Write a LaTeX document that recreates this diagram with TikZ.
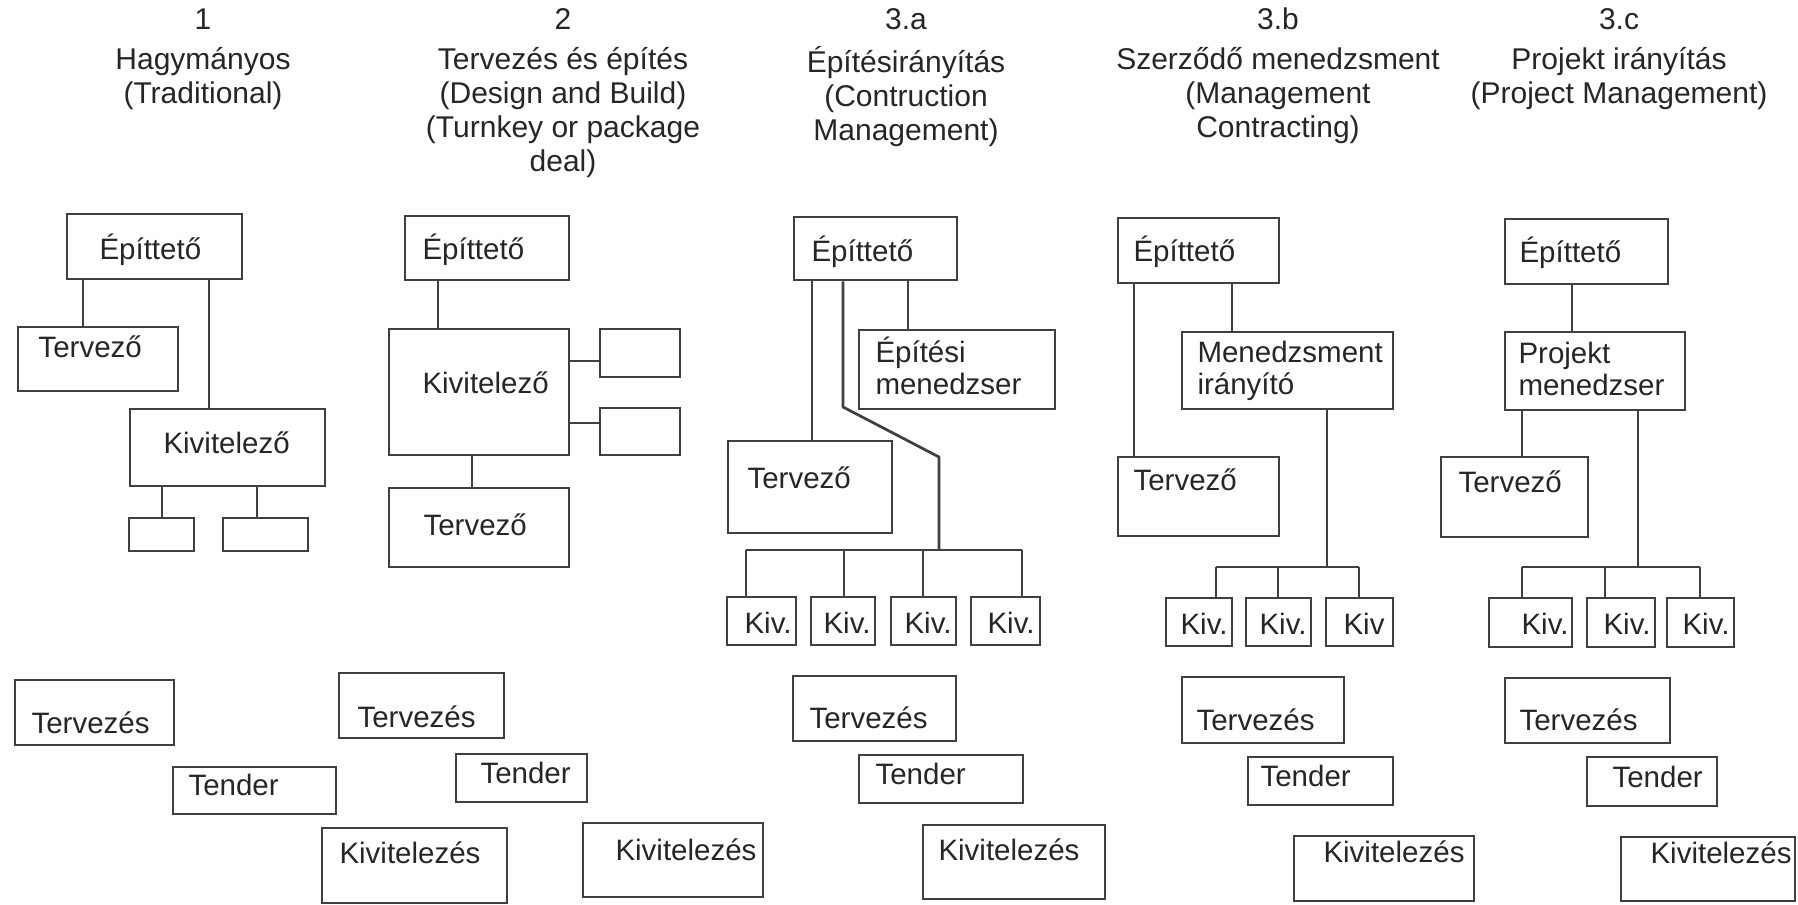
\documentclass[tikz,border=0pt]{standalone}
\usepackage{fontspec}
\setmainfont{Liberation Sans}
\usetikzlibrary{fit}
\tikzset{
  bxs/.style={draw=black!75, line width=1.1pt, inner sep=0pt},
  lbl/.style={inner sep=0pt, text=black!85, font=\fontsize{11.8pt}{12.8pt}\selectfont},
  ttl/.style={inner sep=0pt, text=black!85, font=\fontsize{12pt}{13.6pt}\selectfont},
  conn/.style={draw=black!75, line width=1.1pt}
}
\newcommand\mybox[5]{%
  \coordinate (#1-nw) at (#2,#3);
  \coordinate (#1-se) at (#4,#5);
  \node[bxs, fit=(#1-nw)(#1-se)] (#1) {};}
\newcommand\mylbl[4]{\node[lbl, anchor=base west] (#1) at (#2,#3) {#4};}
\newcommand\mykiv[4]{\node[lbl, anchor=base east] (#1) at (#2,#3) {#4};}
\newcommand\twoline[2]{\begin{tabular}[t]{@{}l@{}}#1\\#2\end{tabular}}
\begin{document}
\begin{tikzpicture}[x=0.4pt, y=-0.4pt]
\fill[white] (0,0) rectangle (1798,905);
\useasboundingbox (0,0) rectangle (1798,905);

% ---------- titles ----------
\node[ttl, anchor=base] (t1) at (203,30) {\begin{tabular}[t]{@{}c@{}}1\\[2.4pt]Hagymányos\\(Traditional)\end{tabular}};
\node[ttl, anchor=base] (t2) at (563,30) {\begin{tabular}[t]{@{}c@{}}2\\[2.4pt]Tervezés és építés\\(Design and Build)\\(Turnkey or package\\deal)\end{tabular}};
\node[ttl, anchor=base] (t3a) at (906,30) {\begin{tabular}[t]{@{}c@{}}3.a\\[2.4pt]Építésirányítás\\(Contruction\\Management)\end{tabular}};
\node[ttl, anchor=base] (t3b) at (1278,30) {\begin{tabular}[t]{@{}c@{}}3.b\\[2.4pt]Szerződő menedzsment\\(Management\\Contracting)\end{tabular}};
\node[ttl, anchor=base] (t3c) at (1619,30) {\begin{tabular}[t]{@{}c@{}}3.c\\[2.4pt]Projekt irányítás\\(Project Management)\end{tabular}};

% ---------- column 1 ----------
\mybox{ep1}{67}{214}{242}{279}
\mybox{tv1}{18}{327}{178}{391}
\mybox{kv1}{130}{409}{325}{486}
\mybox{s1a}{129}{518}{194}{551}
\mybox{s1b}{223}{518}{308}{551}
\mylbl{ep1t}{99}{260}{Építtető}
\mylbl{tv1t}{38}{357}{Tervező}
\mylbl{kv1t}{163}{453}{Kivitelező}
\coordinate (x83) at (83,0);
\coordinate (x209) at (209,0);
\coordinate (x162) at (162,0);
\coordinate (x257) at (257,0);
\draw[conn] (ep1.south -| x83) -- (tv1.north -| x83);
\draw[conn] (ep1.south -| x209) -- (kv1.north -| x209);
\draw[conn] (kv1.south -| x162) -- (s1a.north -| x162);
\draw[conn] (kv1.south -| x257) -- (s1b.north -| x257);

% ---------- column 2 ----------
\mybox{ep2}{405}{216}{569}{280}
\mybox{kv2}{389}{329}{569}{455}
\mybox{r2a}{600}{329}{680}{377}
\mybox{r2b}{600}{408}{680}{455}
\mybox{tv2}{389}{488}{569}{567}
\mylbl{ep2t}{422}{260}{Építtető}
\mylbl{kv2t}{422}{393}{Kivitelező}
\mylbl{tv2t}{423}{535}{Tervező}
\coordinate (x438) at (438,0);
\coordinate (x472) at (472,0);
\coordinate (y361) at (0,361);
\coordinate (y423) at (0,423);
\draw[conn] (ep2.south -| x438) -- (kv2.north -| x438);
\draw[conn] (kv2.east |- y361) -- (r2a.west |- y361);
\draw[conn] (kv2.east |- y423) -- (r2b.west |- y423);
\draw[conn] (kv2.south -| x472) -- (tv2.north -| x472);

% ---------- column 3.a ----------
\mybox{ep3a}{794}{217}{957}{280}
\mybox{em3a}{859}{330}{1055}{409}
\mybox{tv3a}{728}{441}{892}{533}
\mybox{ka1}{727}{597}{796}{645}
\mybox{ka2}{811}{597}{875}{645}
\mybox{ka3}{891}{597}{956}{645}
\mybox{ka4}{971}{597}{1040}{645}
\mylbl{ep3at}{811}{262}{Építtető}
\mylbl{em3at}{875}{362}{\twoline{Építési}{menedzser}}
\mylbl{tv3at}{747}{488}{Tervező}
\mykiv{ka1t}{792}{633}{Kiv.}
\mykiv{ka2t}{871}{633}{Kiv.}
\mykiv{ka3t}{952}{633}{Kiv.}
\mykiv{ka4t}{1035}{633}{Kiv.}
\coordinate (x812) at (812,0);
\coordinate (x908) at (908,0);
\coordinate (x843) at (843,0);
\coordinate (k3a1) at (843,407);
\coordinate (k3a2) at (939,457);
\coordinate (j3a) at (939,550);
\coordinate (b3a1) at (746,550);
\coordinate (b3a2) at (844,550);
\coordinate (b3a3) at (923,550);
\coordinate (b3a4) at (1022,550);
\draw[conn] (ep3a.south -| x812) -- (tv3a.north -| x812);
\draw[conn] (ep3a.south -| x908) -- (em3a.north -| x908);
\draw[conn, line join=round] (ep3a.south -| x843) -- (k3a1) -- (k3a2) -- (j3a);
\draw[conn] (b3a1) -- (b3a4);
\draw[conn] (b3a1) -- (ka1.north -| b3a1);
\draw[conn] (b3a2) -- (ka2.north -| b3a2);
\draw[conn] (b3a3) -- (ka3.north -| b3a3);
\draw[conn] (b3a4) -- (ka4.north -| b3a4);

% ---------- column 3.b ----------
\mybox{ep3b}{1118}{218}{1279}{283}
\mybox{mi3b}{1182}{332}{1393}{409}
\mybox{tv3b}{1118}{457}{1279}{536}
\mybox{kb1}{1166}{598}{1232}{646}
\mybox{kb2}{1246}{598}{1311}{646}
\mybox{kb3}{1326}{598}{1393}{646}
\mylbl{ep3bt}{1133}{262}{Építtető}
\mylbl{mi3bt}{1197}{362}{\twoline{Menedzsment}{irányító}}
\mylbl{tv3bt}{1133}{490}{Tervező}
\mykiv{kb1t}{1228}{634}{Kiv.}
\mykiv{kb2t}{1307}{634}{Kiv.}
\mykiv{kb3t}{1385}{634}{Kiv}
\coordinate (x1134) at (1134,0);
\coordinate (x1232) at (1232,0);
\coordinate (x1327) at (1327,0);
\coordinate (j3b) at (1327,567);
\coordinate (b3b1) at (1216,567);
\coordinate (b3b2) at (1278,567);
\coordinate (b3b3) at (1359,567);
\draw[conn] (ep3b.south -| x1134) -- (tv3b.north -| x1134);
\draw[conn] (ep3b.south -| x1232) -- (mi3b.north -| x1232);
\draw[conn] (mi3b.south -| x1327) -- (j3b);
\draw[conn] (b3b1) -- (b3b3);
\draw[conn] (b3b1) -- (kb1.north -| b3b1);
\draw[conn] (b3b2) -- (kb2.north -| b3b2);
\draw[conn] (b3b3) -- (kb3.north -| b3b3);

% ---------- column 3.c ----------
\mybox{ep3c}{1505}{219}{1668}{284}
\mybox{pm3c}{1505}{332}{1685}{410}
\mybox{tv3c}{1441}{457}{1588}{537}
\mybox{kc1}{1489}{598}{1572}{647}
\mybox{kc2}{1587}{598}{1655}{647}
\mybox{kc3}{1667}{598}{1734}{647}
\mylbl{ep3ct}{1519}{263}{Építtető}
\mylbl{pm3ct}{1518}{363}{\twoline{Projekt}{menedzser}}
\mylbl{tv3ct}{1458}{492}{Tervező}
\mykiv{kc1t}{1569}{634}{Kiv.}
\mykiv{kc2t}{1651}{634}{Kiv.}
\mykiv{kc3t}{1730}{634}{Kiv.}
\coordinate (x1572) at (1572,0);
\coordinate (x1522) at (1522,0);
\coordinate (x1638) at (1638,0);
\coordinate (j3c) at (1638,567);
\coordinate (b3c1) at (1522,567);
\coordinate (b3c2) at (1605,567);
\coordinate (b3c3) at (1700,567);
\draw[conn] (ep3c.south -| x1572) -- (pm3c.north -| x1572);
\draw[conn] (pm3c.south -| x1522) -- (tv3c.north -| x1522);
\draw[conn] (pm3c.south -| x1638) -- (j3c);
\draw[conn] (b3c1) -- (b3c3);
\draw[conn] (b3c1) -- (kc1.north -| b3c1);
\draw[conn] (b3c2) -- (kc2.north -| b3c2);
\draw[conn] (b3c3) -- (kc3.north -| b3c3);

% ---------- bottom phase boxes ----------
\mybox{pT1}{15}{680}{174}{745}
\mybox{pD1}{173}{767}{336}{814}
\mybox{pK1}{322}{828}{507}{903}
\mylbl{pT1t}{31}{733}{Tervezés}
\mylbl{pD1t}{188}{795}{Tender}
\mylbl{pK1t}{339}{863}{Kivitelezés}

\mybox{pT2}{339}{673}{504}{738}
\mybox{pD2}{456}{754}{587}{802}
\mybox{pK2}{583}{823}{763}{897}
\mylbl{pT2t}{357}{727}{Tervezés}
\mylbl{pD2t}{480}{783}{Tender}
\mylbl{pK2t}{615}{860}{Kivitelezés}

\mybox{pT3a}{793}{676}{956}{741}
\mybox{pD3a}{859}{755}{1023}{803}
\mybox{pK3a}{923}{825}{1105}{899}
\mylbl{pT3at}{809}{728}{Tervezés}
\mylbl{pD3at}{875}{784}{Tender}
\mylbl{pK3at}{938}{860}{Kivitelezés}

\mybox{pT3b}{1182}{677}{1344}{743}
\mybox{pD3b}{1248}{757}{1393}{805}
\mybox{pK3b}{1294}{836}{1474}{901}
\mylbl{pT3bt}{1196}{730}{Tervezés}
\mylbl{pD3bt}{1260}{786}{Tender}
\mylbl{pK3bt}{1323}{862}{Kivitelezés}

\mybox{pT3c}{1505}{678}{1670}{743}
\mybox{pD3c}{1587}{757}{1717}{806}
\mybox{pK3c}{1621}{837}{1795}{901}
\mylbl{pT3ct}{1519}{730}{Tervezés}
\mylbl{pD3ct}{1612}{787}{Tender}
\mylbl{pK3ct}{1650}{863}{Kivitelezés}
\end{tikzpicture}
\end{document}
